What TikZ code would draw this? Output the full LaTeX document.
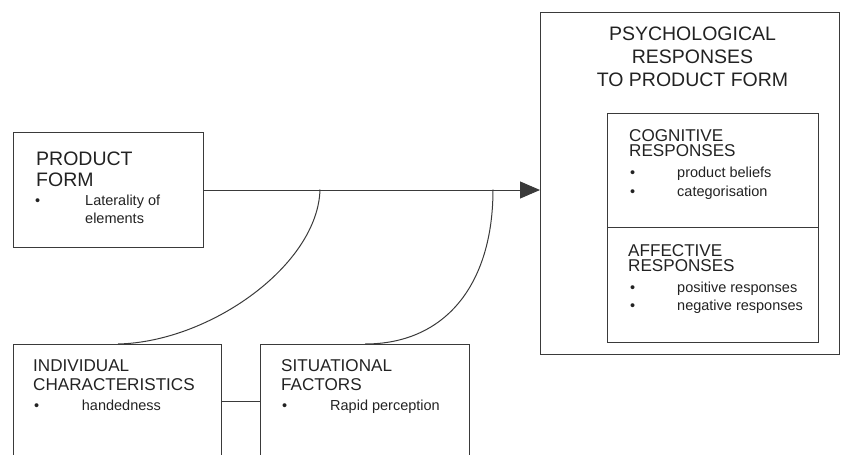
\documentclass[tikz,border=0pt]{standalone}
\usepackage{fontspec}
\setmainfont{Liberation Sans}
\usetikzlibrary{arrows.meta}
\definecolor{linec}{HTML}{3A3A3A}
\definecolor{txtc}{HTML}{222222}
\begin{document}
\begin{tikzpicture}[x=1pt,y=-1pt,
  box/.style={draw=linec,line width=1pt,rectangle,inner sep=0pt,anchor=north west},
  ln/.style={draw=linec,line width=1pt},
  hdbig/.style={anchor=base west,inner sep=0pt,text=txtc,font=\fontsize{19.5}{21}\selectfont},
  hdctr/.style={anchor=base,inner sep=0pt,text=txtc,font=\fontsize{19.5}{21}\selectfont},
  hdmid/.style={anchor=base west,inner sep=0pt,text=txtc,font=\fontsize{17.1}{19}\selectfont},
  itm/.style={anchor=base west,inner sep=0pt,text=txtc,font=\fontsize{14.5}{17}\selectfont},
]
\useasboundingbox (0,0) rectangle (841,455);
\clip (0,0) rectangle (841,455);

% boxes
\node[box,minimum width=190pt,minimum height=115pt] (pf) at (13,132) {};
\node[box,minimum width=208pt,minimum height=130pt] (ind) at (13,344) {};
\node[box,minimum width=209pt,minimum height=130pt] (sit) at (260,344) {};
\node[box,minimum width=299pt,minimum height=342pt] (big) at (540,12) {};
\node[box,minimum width=211pt,minimum height=114pt] (cog) at (607,113) {};
\node[box,minimum width=211pt,minimum height=115pt] (aff) at (607,227) {};

% product form text
\node[hdbig] (pf1) at (36,165) {PRODUCT};
\node[hdbig] (pf2) at (36,186) {FORM};
\node[itm] (pfb) at (35,205.7) {•};
\node[itm] (pf3) at (85,205.7) {Laterality of};
\node[itm] (pf4) at (85,223.5) {elements};

% individual characteristics
\node[hdmid] (in1) at (33,371.7) {INDIVIDUAL};
\node[hdmid] (in2) at (33,390.7) {CHARACTERISTICS};
\node[itm] (inb) at (34,410.7) {•};
\node[itm] (in3) at (81.7,410.7) {handedness};

% situational factors
\node[hdmid] (si1) at (281,371.7) {SITUATIONAL};
\node[hdmid] (si2) at (281,390.7) {FACTORS};
\node[itm] (sib) at (282,410.7) {•};
\node[itm] (si3) at (330,410.7) {Rapid perception};

% psychological responses
\node[hdctr] (ps1) at (692.5,40.7) {PSYCHOLOGICAL};
\node[hdctr] (ps2) at (692.5,63.3) {RESPONSES};
\node[hdctr] (ps3) at (692.5,86) {TO PRODUCT FORM};

% cognitive
\node[hdmid] (co1) at (629,141) {COGNITIVE};
\node[hdmid] (co2) at (629,156.7) {RESPONSES};
\node[itm] (cob1) at (630,177.3) {•};
\node[itm] (co3) at (677,177.3) {product beliefs};
\node[itm] (cob2) at (630,196) {•};
\node[itm] (co4) at (677,196) {categorisation};

% affective
\node[hdmid] (af1) at (628,256) {AFFECTIVE};
\node[hdmid] (af2) at (628,271.7) {RESPONSES};
\node[itm] (afb1) at (630,292.7) {•};
\node[itm] (af3) at (677,292.7) {positive responses};
\node[itm] (afb2) at (630,310.7) {•};
\node[itm] (af4) at (677,310.7) {negative responses};

% connectors
\draw[ln,-{Triangle[length=20pt,width=17pt]},fill=txtc] (pf.east) -- (pf.east -| big.west);
\coordinate (j1) at (320,189.5);
\coordinate (e1) at (118,344);
\coordinate (j2) at (493,189.5);
\coordinate (e2) at (365,344);
\draw[ln] (j1) .. controls (318,265) and (210,342) .. (e1);
\draw[ln] (j2) .. controls (493,285) and (445,344) .. (e2);
\draw[ln] (ind.east |- 0,401) -- (sit.west |- 0,401);
\end{tikzpicture}
\end{document}
